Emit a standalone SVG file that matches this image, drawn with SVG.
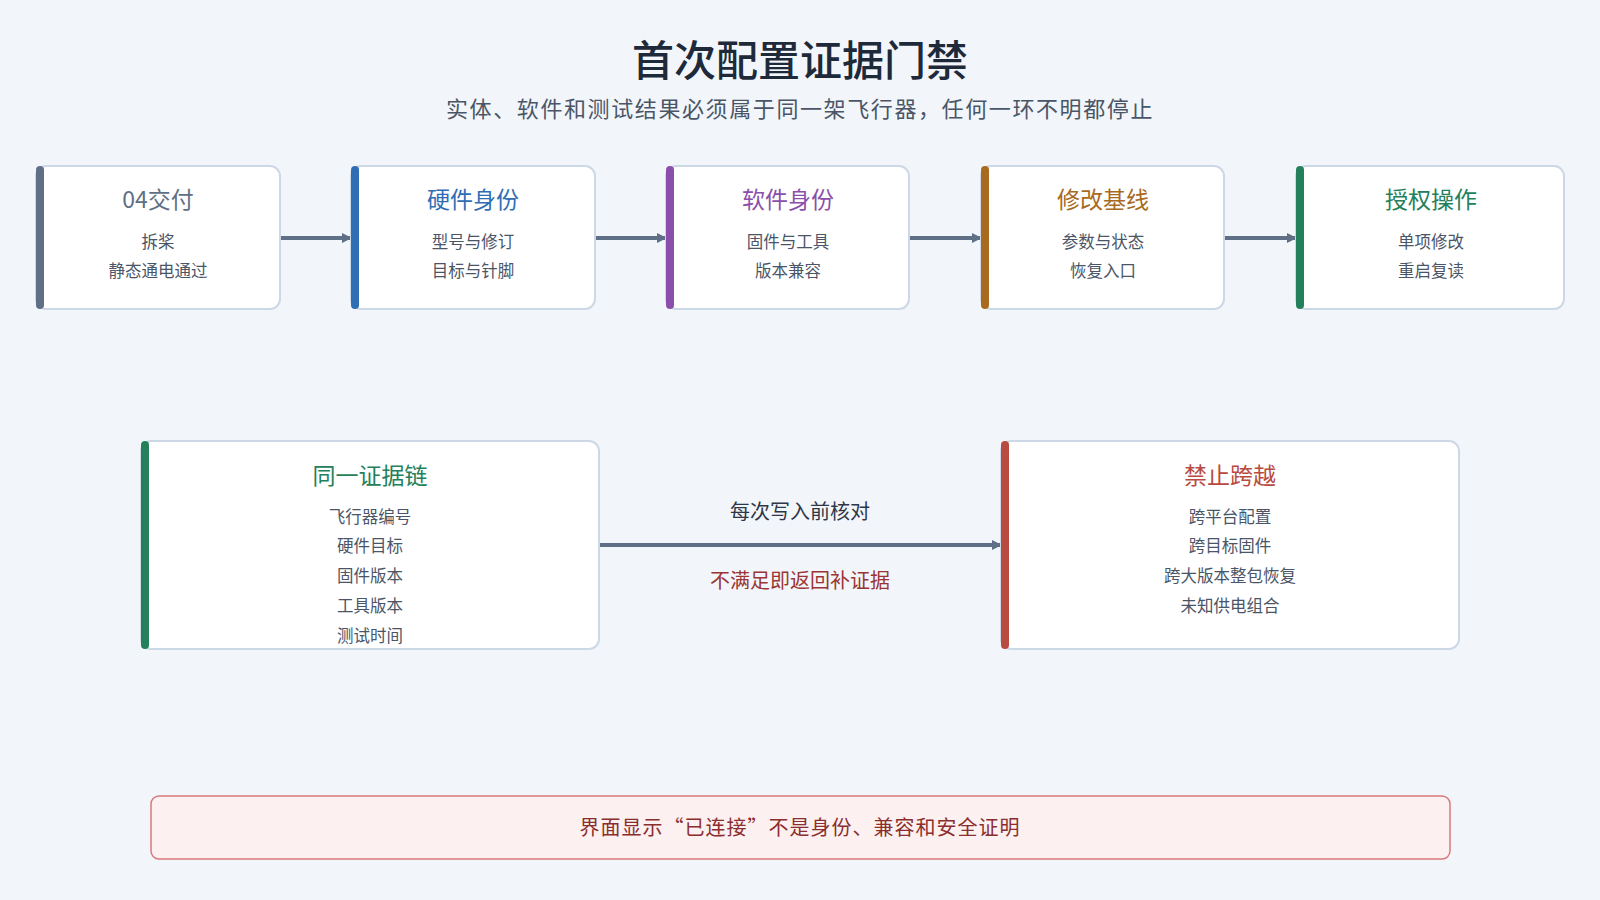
<svg xmlns="http://www.w3.org/2000/svg" width="1600" height="900" viewBox="0 0 1600 900">
<defs>
<marker id="ah" markerWidth="10" markerHeight="10" refX="9" refY="5" orient="auto" markerUnits="userSpaceOnUse"><path d="M0,0 L10,5 L0,10 z" fill="#5f6f86"/></marker>
<style>
text{font-family:"Noto Sans CJK SC","Noto Sans",sans-serif;text-anchor:middle}
.box{fill:#fff;stroke:#cdd8e6;stroke-width:2}
.t{font-size:23px}
.l{font-size:16.5px;fill:#4a5568}
.c{stroke:#5f6f86;stroke-width:4;fill:none}
</style>
</defs>
<rect width="1600" height="900" fill="#f2f6fa"/>
<text x="800" y="76" font-size="42" fill="#1e2a3a" font-weight="500">首次配置证据门禁</text>
<text x="800" y="117" font-size="22" letter-spacing="1.6" fill="#4a5568">实体、软件和测试结果必须属于同一架飞行器，任何一环不明都停止</text>
<g id="connectors">
<line class="c" x1="280" y1="238" x2="351" y2="238" marker-end="url(#ah)"/>
<line class="c" x1="595" y1="238" x2="666" y2="238" marker-end="url(#ah)"/>
<line class="c" x1="909" y1="238" x2="981" y2="238" marker-end="url(#ah)"/>
<line class="c" x1="1224" y1="238" x2="1296" y2="238" marker-end="url(#ah)"/>
<line class="c" x1="599" y1="545" x2="1001" y2="545" marker-end="url(#ah)"/>
<text x="800" y="519" font-size="20" fill="#2d3748">每次写入前核对</text>
<text x="800" y="588" font-size="20" fill="#9b3535">不满足即返回补证据</text>
</g>
<g id="n1"><rect class="box" x="36" y="166" width="244" height="143" rx="10"/><rect x="36" y="166" width="8" height="143" rx="4" fill="#5f6f86"/>
<text class="t" x="158" y="208" fill="#5f6f86">04交付</text><text class="l" x="158" y="248">拆桨</text><text class="l" x="158" y="277">静态通电通过</text></g>
<g id="n2"><rect class="box" x="351" y="166" width="244" height="143" rx="10"/><rect x="351" y="166" width="8" height="143" rx="4" fill="#2f6db5"/>
<text class="t" x="473" y="208" fill="#2f6db5">硬件身份</text><text class="l" x="473" y="248">型号与修订</text><text class="l" x="473" y="277">目标与针脚</text></g>
<g id="n3"><rect class="box" x="666" y="166" width="243" height="143" rx="10"/><rect x="666" y="166" width="8" height="143" rx="4" fill="#8a4fab"/>
<text class="t" x="788" y="208" fill="#8a4fab">软件身份</text><text class="l" x="788" y="248">固件与工具</text><text class="l" x="788" y="277">版本兼容</text></g>
<g id="n4"><rect class="box" x="981" y="166" width="243" height="143" rx="10"/><rect x="981" y="166" width="8" height="143" rx="4" fill="#a86a1e"/>
<text class="t" x="1103" y="208" fill="#a86a1e">修改基线</text><text class="l" x="1103" y="248">参数与状态</text><text class="l" x="1103" y="277">恢复入口</text></g>
<g id="n5"><rect class="box" x="1296" y="166" width="268" height="143" rx="10"/><rect x="1296" y="166" width="8" height="143" rx="4" fill="#23805a"/>
<text class="t" x="1431" y="208" fill="#23805a">授权操作</text><text class="l" x="1431" y="248">单项修改</text><text class="l" x="1431" y="277">重启复读</text></g>
<g id="n6"><rect class="box" x="141" y="441" width="458" height="208" rx="10"/><rect x="141" y="441" width="8" height="208" rx="4" fill="#23805a"/>
<text class="t" x="370" y="484" fill="#23805a">同一证据链</text>
<text class="l" x="370" y="523">飞行器编号</text><text class="l" x="370" y="552">硬件目标</text><text class="l" x="370" y="582">固件版本</text><text class="l" x="370" y="612">工具版本</text><text class="l" x="370" y="642">测试时间</text></g>
<g id="n7"><rect class="box" x="1001" y="441" width="458" height="208" rx="10"/><rect x="1001" y="441" width="8" height="208" rx="4" fill="#b84a40"/>
<text class="t" x="1230" y="484" fill="#b84a40">禁止跨越</text>
<text class="l" x="1230" y="523">跨平台配置</text><text class="l" x="1230" y="552">跨目标固件</text><text class="l" x="1230" y="582">跨大版本整包恢复</text><text class="l" x="1230" y="612">未知供电组合</text></g>
<g id="banner"><rect x="151" y="796" width="1299" height="63" rx="8" fill="#fdf0f0" stroke="#d9797a" stroke-width="1.5"/>
<text x="800" y="835" font-size="20" letter-spacing="1" fill="#8a2e2e">界面显示“已连接”不是身份、兼容和安全证明</text></g>
</svg>
